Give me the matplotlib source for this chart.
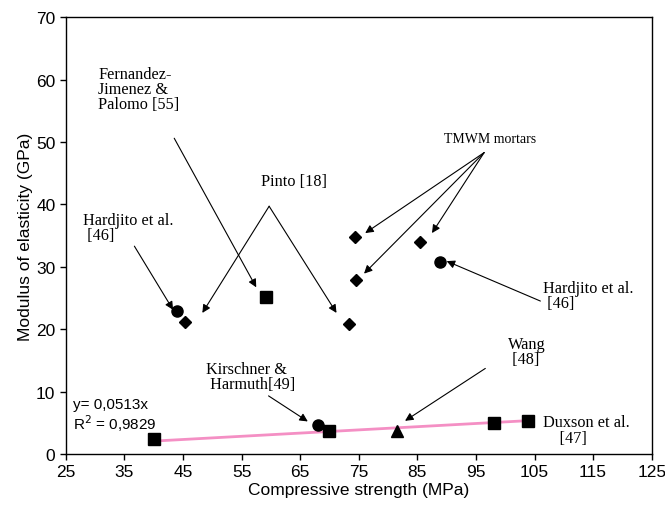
import numpy as np
import matplotlib.pyplot as plt

# data (compressive strength MPa, modulus GPa)
diamond_x = [45.3, 73.3, 74.3, 74.6, 85.5]
diamond_y = [21.1, 20.8, 34.8, 27.9, 33.9]
square_x = [59.1, 40.0, 70.0, 98.0, 103.9]
square_y = [25.1, 2.4, 3.7, 5.0, 5.2]
circle_x = [43.9, 88.8, 68.1]
circle_y = [22.9, 30.8, 4.6]
triangle_x = [81.5]
triangle_y = [3.7]
slope = 0.0513
fit_x = [40.0, 104.0]

SERIF = "Liberation Serif"
SANS = "Liberation Sans"

fig = plt.figure(figsize=(6.65, 5.06), dpi=100)
ax = fig.add_axes([0.099, 0.101, 0.881, 0.863])

fx = np.array(fit_x)
ax.plot(fx, slope * fx, color="#f48fc4", lw=2, zorder=2)

ax.plot(diamond_x, diamond_y, "D", color="black", ms=6.5, zorder=3)
ax.plot(square_x, square_y, "s", color="black", ms=8, zorder=3)
ax.plot(circle_x, circle_y, "o", color="black", ms=8, zorder=3)
ax.plot(triangle_x, triangle_y, "^", color="black", ms=9, zorder=3)

arrow = dict(arrowstyle="-|>", color="black", lw=0.8, mutation_scale=12, shrinkA=0, shrinkB=0)
arrows = [
    ((36.7, 33.3), (43.3, 23.1)),
    ((43.5, 50.6), (57.5, 26.7)),
    ((59.7, 39.7), (48.3, 22.6)),
    ((59.7, 39.7), (71.2, 22.6)),
    ((96.4, 48.3), (76.1, 35.4)),
    ((96.4, 48.3), (75.9, 28.9)),
    ((96.4, 48.3), (87.5, 35.4)),
    ((106.0, 24.5), (90.0, 30.9)),
    ((59.6, 9.3), (66.3, 5.2)),
    ((96.6, 13.7), (82.9, 5.3)),
]
for start, end in arrows:
    ax.annotate("", xy=end, xytext=start, arrowprops=arrow)

notes = [
    (30.5, 58.5, "Fernandez-\nJimenez &\nPalomo [55]", 11.7),
    (28.0, 36.3, "Hardjito et al.\n [46]", 11.7),
    (58.3, 43.7, "Pinto [18]", 11.7),
    (89.6, 50.6, "TMWM mortars", 10),
    (106.5, 25.4, "Hardjito et al.\n [46]", 11.7),
    (48.9, 12.45, "Kirschner &\n Harmuth[49]", 11.7),
    (100.4, 16.4, "Wang\n [48]", 11.7),
    (106.5, 3.8, "Duxson et al.\n    [47]", 11.7),
]
for x, y, s, size in notes:
    ax.text(x, y, s, family=SERIF, fontsize=size, ha="left", va="center", linespacing=0.95)

ax.text(26.2, 6.2, "y= 0,0513x\nR$^2$ = 0,9829", family=SANS, fontsize=11,
        va="center", ha="left", linespacing=1.05)

ax.set_xlim(25, 125)
ax.set_ylim(0, 70)
ax.set_xticks(np.arange(25, 126, 10))
ax.set_yticks(np.arange(0, 71, 10))
ax.tick_params(direction="out", length=4, width=1, labelsize=12.5, top=False, right=False)
for lab in ax.get_xticklabels() + ax.get_yticklabels():
    lab.set_family(SANS)
for sp in ax.spines.values():
    sp.set_linewidth(1)
ax.set_xlabel("Compressive strength (MPa)", family=SANS, fontsize=12.5, labelpad=2)
ax.set_ylabel("Modulus of elasticity (GPa)", family=SANS, fontsize=12.5, labelpad=2)

fig.savefig("out.png", dpi=100)
